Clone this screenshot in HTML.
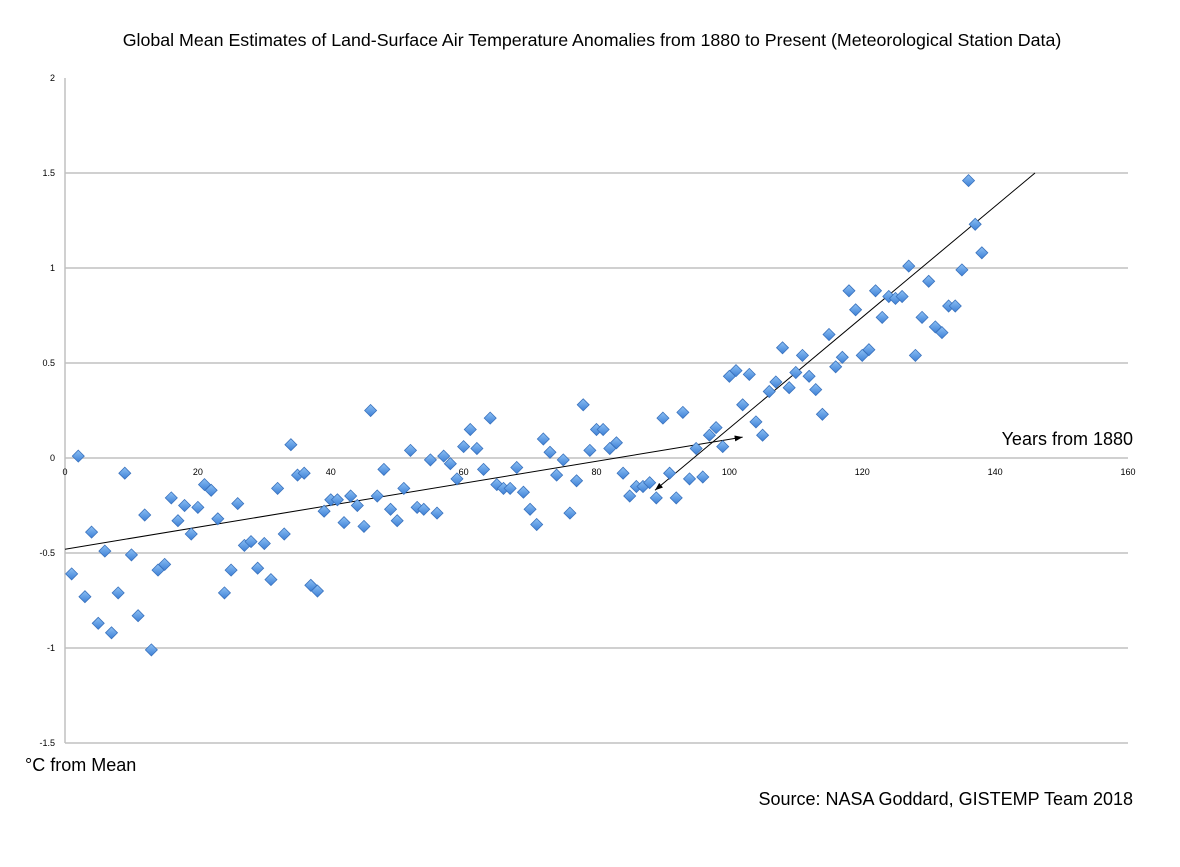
<!DOCTYPE html>
<html><head><meta charset="utf-8"><style>
body{margin:0;background:#fff;}
svg text{font-family:"Liberation Sans",sans-serif;}
</style></head><body>
<svg id="chart" width="1180" height="862" xmlns="http://www.w3.org/2000/svg">
<defs>
<linearGradient id="dg" x1="0" y1="0" x2="0" y2="1"><stop offset="0" stop-color="#8cc0f4"/><stop offset="1" stop-color="#3d80d6"/></linearGradient>
<marker id="ah" markerWidth="8" markerHeight="6" refX="8" refY="3" orient="auto"><path d="M0,0 L8,3 L0,6 z" fill="#000"/></marker>
<marker id="ahs" markerWidth="8" markerHeight="6" refX="0" refY="3" orient="auto"><path d="M8,0 L0,3 L8,6 z" fill="#000"/></marker>
</defs>
<text x="592" y="46" font-size="17.8" text-anchor="middle">Global Mean Estimates of Land-Surface Air Temperature Anomalies from 1880 to Present (Meteorological Station Data)</text>
<g id="grid"></g>
<g id="trend"></g>
<g id="pts"></g>
<text x="1133" y="445" font-size="18" text-anchor="end">Years from 1880</text>
<text x="25" y="771" font-size="18">°C from Mean</text>
<text x="1133" y="805" font-size="18" text-anchor="end">Source: NASA Goddard, GISTEMP Team 2018</text>
</svg>
<script>
const yTicks=[2,1.5,1,0.5,0,-0.5,-1,-1.5];
const yTickLabels=["2","1.5","1","0.5","0","-0.5","-1","-1.5"];
const xTicks=[0,20,40,60,80,100,120,140,160];
const anomalies=[-0.61,0.01,-0.73,-0.39,-0.87,-0.49,-0.92,-0.71,-0.08,-0.51,-0.83,-0.30,-1.01,-0.59,-0.56,-0.21,-0.33,-0.25,-0.40,-0.26,-0.14,-0.17,-0.32,-0.71,-0.59,-0.24,-0.46,-0.44,-0.58,-0.45,-0.64,-0.16,-0.40,0.07,-0.09,-0.08,-0.67,-0.70,-0.28,-0.22,-0.22,-0.34,-0.20,-0.25,-0.36,0.25,-0.20,-0.06,-0.27,-0.33,-0.16,0.04,-0.26,-0.27,-0.01,-0.29,0.01,-0.03,-0.11,0.06,0.15,0.05,-0.06,0.21,-0.14,-0.16,-0.16,-0.05,-0.18,-0.27,-0.35,0.10,0.03,-0.09,-0.01,-0.29,-0.12,0.28,0.04,0.15,0.15,0.05,0.08,-0.08,-0.20,-0.15,-0.15,-0.13,-0.21,0.21,-0.08,-0.21,0.24,-0.11,0.05,-0.10,0.12,0.16,0.06,0.43,0.46,0.28,0.44,0.19,0.12,0.35,0.40,0.58,0.37,0.45,0.54,0.43,0.36,0.23,0.65,0.48,0.53,0.88,0.78,0.54,0.57,0.88,0.74,0.85,0.84,0.85,1.01,0.54,0.74,0.93,0.69,0.66,0.80,0.80,0.99,1.46,1.23,1.08];
const trend1=[[0,-0.48],[102,0.11]];
const trend2=[[88.8,-0.17],[146,1.5]];
const X=v=>65+v*(1063/160), Y=v=>458-v*190;
const NS="http://www.w3.org/2000/svg";
function mk(t,a,p){const e=document.createElementNS(NS,t);for(const k in a)e.setAttribute(k,a[k]);p.appendChild(e);return e;}
const grid=document.getElementById('grid');
yTicks.forEach((t,i)=>{
  if(t!==2){const l=mk('line',{x1:65,x2:1128,y1:Y(t),y2:Y(t),stroke:'#c0c0c0','stroke-width':1.5},grid);
  
  }
  const tx=mk('text',{x:55,y:Y(t)+3,'font-size':9,'text-anchor':'end'},grid);tx.textContent=yTickLabels[i];
  
  
});
const ax=mk('line',{x1:65,x2:65,y1:78,y2:743,stroke:'#c0c0c0','stroke-width':1.5},grid);


xTicks.forEach(t=>{const tx=mk('text',{x:X(t),y:Y(0)+17,'font-size':9,'text-anchor':'middle'},grid);tx.textContent=t;
  
  });
const tr=document.getElementById('trend');
const l1=mk('line',{x1:X(trend1[0][0]),y1:Y(trend1[0][1]),x2:X(trend1[1][0]),y2:Y(trend1[1][1]),stroke:'#000','stroke-width':1,'marker-end':'url(#ah)'},tr);


const l2=mk('line',{x1:X(trend2[0][0]),y1:Y(trend2[0][1]),x2:X(trend2[1][0]),y2:Y(trend2[1][1]),stroke:'#000','stroke-width':1,'marker-start':'url(#ahs)'},tr);


const pts=document.getElementById('pts');
anomalies.forEach((v,i)=>{const cx=X(i+1),cy=Y(v),r=6;
  const p=mk('path',{d:`M${cx},${cy-r}L${cx+r},${cy}L${cx},${cy+r}L${cx-r},${cy}Z`,fill:'url(#dg)',stroke:'#3a72bd','stroke-width':0.8},pts);
  
  
});
</script>
</body></html>
